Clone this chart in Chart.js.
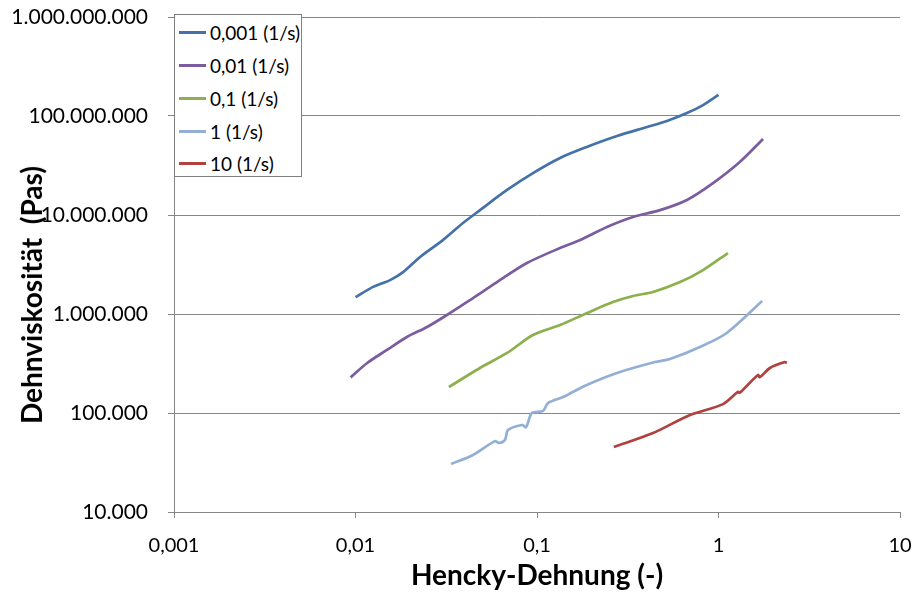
<!DOCTYPE html>
<html>
<head>
<meta charset="utf-8">
<script src="https://cdn.jsdelivr.net/npm/chart.js@4"></script>
<style>
  body { margin: 0; background: #fff; }
  #wrap { position: relative; width: 915px; height: 593px; }
  #legend {
    position: absolute; left: 174px; top: 14px; width: 126px; height: 161px;
    background: #fff; border: 1px solid #7f7f7f; box-sizing: content-box;
    font-family: Lato, "Noto Sans", sans-serif; font-size: 19px; color: #000;
  }
  #legend .row { position: absolute; left: 4px; height: 22px; display: flex; align-items: center; white-space: nowrap; }
  #legend .swatch { width: 27px; height: 3px; margin-right: 4px; }
  #ytitle {
    position: absolute; left: 31px; top: 295px; transform: translate(-50%, -50%) rotate(-90deg);
    font-family: Lato, "Noto Sans", sans-serif; font-size: 28px; font-weight: bold; color: #000;
    white-space: pre; line-height: 1;
  }
</style>
</head>
<body>
<div id="wrap">
  <canvas id="chart" width="915" height="593"></canvas>
  <div id="legend"></div>
  <div id="ytitle">Dehnviskosität  (Pas)</div>
</div>
<script>
  // Hencky strain (x) and extensional viscosity (y)
  const strain0001 = [0.0100, 0.0125, 0.0155, 0.0183, 0.0227, 0.0303, 0.0391, 0.0485, 0.0684, 0.095, 0.134, 0.188, 0.276, 0.404, 0.52, 0.67, 0.822, 1.0];
  const visc0001 = [1.48e6, 1.88e6, 2.2e6, 2.65e6, 3.77e6, 5.58e6, 8.3e6, 1.12e7, 1.79e7, 2.65e7, 3.77e7, 4.87e7, 6.28e7, 7.74e7, 8.9e7, 1.07e8, 1.29e8, 1.63e8];

  const strain001 = [0.0094, 0.0116, 0.0149, 0.0192, 0.0248, 0.0319, 0.0444, 0.0602, 0.088, 0.134, 0.173, 0.243, 0.338, 0.476, 0.67, 0.933, 1.31, 1.76];
  const visc001 = [2.29e5, 3.2e5, 4.33e5, 5.86e5, 7.4e5, 9.77e5, 1.45e6, 2.1e6, 3.27e6, 4.64e6, 5.58e6, 7.57e6, 9.55e6, 1.12e7, 1.42e7, 2.1e7, 3.43e7, 5.86e7];

  const strain01 = [0.0327, 0.0485, 0.0684, 0.095, 0.134, 0.188, 0.262, 0.338, 0.436, 0.614, 0.822, 1.127];
  const visc01 = [1.83e5, 2.85e5, 4.04e5, 6.13e5, 7.74e5, 1.02e6, 1.32e6, 1.52e6, 1.67e6, 2.1e6, 2.78e6, 4.13e6];

  const strain1 = [0.0336, 0.0444, 0.0587, 0.0616, 0.0666, 0.0692, 0.0827, 0.087, 0.0938, 0.108, 0.115, 0.139, 0.188, 0.276, 0.447, 0.54, 0.79, 1.11, 1.74];
  const visc1 = [3.05e4, 3.77e4, 5.2e4, 4.98e4, 5.34e4, 6.73e4, 7.57e4, 7.2e4, 1.0e5, 1.05e5, 1.26e5, 1.45e5, 1.92e5, 2.54e5, 3.27e5, 3.51e5, 4.64e5, 6.43e5, 1.35e6];

  const strain10 = [0.265, 0.436, 0.697, 1.059, 1.28, 1.31, 1.65, 1.69, 1.92, 2.32, 2.38];
  const visc10 = [4.54e4, 6.28e4, 9.55e4, 1.23e5, 1.63e5, 1.6e5, 2.42e5, 2.3e5, 2.85e5, 3.27e5, 3.2e5];

  const seriesLabels = ["0,001 (1/s)", "0,01 (1/s)", "0,1 (1/s)", "1 (1/s)", "10 (1/s)"];
  const seriesColors = ["#4472a8", "#7b5d9f", "#8cb04d", "#93afd6", "#b0413e"];
  const xTicks = [0.001, 0.01, 0.1, 1, 10];
  const yTicks = [1e4, 1e5, 1e6, 1e7, 1e8, 1e9];

  const seriesX = [strain0001, strain001, strain01, strain1, strain10];
  const seriesY = [visc0001, visc001, visc01, visc1, visc10];

  const datasets = seriesLabels.map((label, i) => ({
    label,
    data: seriesX[i].map((x, j) => ({ x, y: seriesY[i][j] })),
    borderColor: seriesColors[i],
    backgroundColor: seriesColors[i],
    borderWidth: 2.7,
    pointRadius: 0,
    tension: 0.3,
    fill: false,
  }));

  const fontFamily = "Lato, 'Noto Sans', sans-serif";
  const gridColor = "#868686";

  function fmtThousands(v) {
    return String(Math.round(v)).replace(/\B(?=(\d{3})+(?!\d))/g, ".");
  }

  new Chart(document.getElementById("chart").getContext("2d"), {
    type: "line",
    data: { datasets },
    options: {
      responsive: false,
      animation: false,
      layout: { padding: { left: 0, right: 15, top: 17, bottom: 0 } },
      plugins: { legend: { display: false }, tooltip: { enabled: false } },
      scales: {
        x: {
          type: "logarithmic",
          min: 0.001,
          max: 10,
          afterBuildTicks: (axis) => { axis.ticks = xTicks.map((value) => ({ value })); },
          afterFit: (axis) => {
            axis.height = 81;
            axis.paddingLeft = 0;
            axis.paddingRight = 0;
          },
          grid: { drawOnChartArea: false, color: gridColor, tickLength: 6 },
          border: { color: gridColor },
          ticks: {
            color: "#000",
            padding: 16,
            maxRotation: 0,
            font: { family: fontFamily, size: 20 },
            callback: (v) => String(v).replace(".", ","),
          },
          title: {
            display: true,
            text: "Hencky-Dehnung (-)",
            color: "#000",
            font: { family: fontFamily, size: 28, weight: "bold", lineHeight: 1 },
            padding: { top: 0, bottom: 3 },
          },
        },
        y: {
          type: "logarithmic",
          min: 1e4,
          max: 1e9,
          afterBuildTicks: (axis) => { axis.ticks = yTicks.map((value) => ({ value })); },
          afterFit: (axis) => {
            axis.width = 174;
            axis.paddingTop = 0;
            axis.paddingBottom = 0;
          },
          grid: { color: gridColor, tickLength: 6 },
          border: { color: gridColor },
          ticks: {
            color: "#000",
            padding: 20,
            font: { family: fontFamily, size: 21 },
            callback: (v) => fmtThousands(v),
          },
        },
      },
    },
  });

  const legendEl = document.getElementById("legend");
  const rowTops = [6, 39, 72, 105, 137];
  legendEl.innerHTML = seriesLabels.map((label, i) => `
    <div class="row" style="top:${rowTops[i]}px">
      <span class="swatch" style="background:${seriesColors[i]}"></span><span>${label}</span>
    </div>`).join("");
</script>
</body>
</html>
